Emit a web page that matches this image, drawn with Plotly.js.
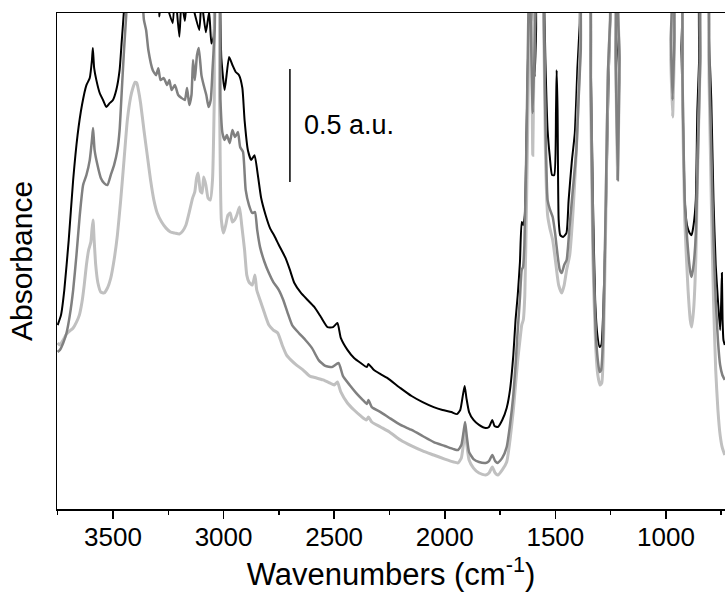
<!DOCTYPE html>
<html>
<head>
<meta charset="utf-8">
<script src="https://cdn.plot.ly/plotly-3.0.1.min.js"></script>
<style>
html,body{margin:0;padding:0;background:#fff;}
#chart{width:725px;height:598px;}
</style>
</head>
<body>
<div id="chart"></div>
<script>
// [wavenumber (cm-1), absorbance (a.u.)]
const blackSpectrum = [[3750,0.814],[3735,0.858],[3720,0.969],[3700,1.190],[3680,1.456],[3660,1.655],[3640,1.788],[3620,1.876],[3605,1.907],[3595,1.987],[3591,2.040],[3585,1.951],[3575,1.898],[3560,1.841],[3545,1.810],[3530,1.779],[3515,1.796],[3500,1.810],[3485,1.854],[3470,1.942],[3460,2.075],[3450,2.21],[3440,2.4],[3300,2.35],[3290,2.18],[3280,2.3],[3230,2.15],[3220,2.3],[3200,2.09],[3190,2.25],[3175,2.16],[3160,2.3],[3110,2.12],[3100,2.25],[3080,2.11],[3065,2.2],[3055,2.06],[3045,2.09],[3035,2.4],[3025,2.4],[3010,1.996],[2995,1.854],[2975,2.000],[2960,1.965],[2945,1.934],[2930,1.920],[2915,1.863],[2905,1.721],[2890,1.588],[2875,1.544],[2860,1.566],[2845,1.478],[2830,1.376],[2810,1.301],[2790,1.243],[2770,1.208],[2750,1.168],[2720,1.111],[2700,1.058],[2680,1.000],[2650,0.956],[2620,0.925],[2590,0.894],[2560,0.850],[2530,0.805],[2505,0.805],[2485,0.823],[2470,0.757],[2440,0.704],[2410,0.668],[2380,0.646],[2352,0.628],[2345,0.642],[2320,0.615],[2290,0.597],[2260,0.580],[2200,0.535],[2150,0.500],[2100,0.473],[2050,0.451],[2010,0.438],[1970,0.429],[1945,0.420],[1930,0.438],[1918,0.504],[1910,0.544],[1902,0.491],[1890,0.429],[1870,0.394],[1845,0.372],[1815,0.358],[1800,0.363],[1785,0.394],[1775,0.367],[1760,0.363],[1740,0.394],[1720,0.447],[1705,0.527],[1690,0.681],[1680,0.836],[1670,0.947],[1660,1.093],[1652,1.270],[1645,1.257],[1638,1.301],[1630,1.677],[1622,2.075],[1610,2.4],[1600,2.075],[1593,1.912],[1587,2.12],[1580,2.4],[1560,2.4],[1552,2.3],[1545,1.987],[1535,1.677],[1525,1.558],[1515,1.478],[1505,1.478],[1497,1.766],[1494,1.942],[1490,1.766],[1485,1.279],[1478,1.212],[1465,1.204],[1450,1.221],[1440,1.367],[1425,1.544],[1412,1.664],[1400,1.956],[1390,2.142],[1380,2.4],[1350,2.4],[1340,1.987],[1330,1.367],[1320,0.925],[1310,0.770],[1300,0.717],[1292,0.726],[1282,0.925],[1270,1.367],[1260,1.854],[1252,2.164],[1245,2.4],[1232,2.4],[1225,1.898],[1218,1.588],[1211,1.898],[1205,2.4],[940,2.4],[930,2.031],[920,1.588],[915,1.367],[905,1.257],[893,1.221],[884,1.212],[875,1.257],[865,1.367],[858,1.766],[850,1.987],[843,2.4],[815,2.4],[805,2.075],[795,1.810],[785,1.367],[775,1.080],[765,0.925],[755,0.792],[750,0.925],[747,1.044],[744,0.836],[740,0.748],[734,0.726]];

const darkGraySpectrum = [[3750,0.695],[3740,0.704],[3725,0.735],[3710,0.779],[3695,0.858],[3680,0.969],[3665,1.124],[3650,1.301],[3635,1.434],[3620,1.478],[3605,1.544],[3595,1.633],[3590,1.686],[3583,1.588],[3570,1.522],[3555,1.465],[3540,1.442],[3525,1.434],[3510,1.478],[3495,1.522],[3480,1.588],[3470,1.677],[3460,1.854],[3450,2.031],[3440,2.186],[3430,2.35],[3380,2.35],[3360,2.164],[3350,2.119],[3340,2.031],[3320,1.942],[3305,1.920],[3295,1.951],[3285,1.898],[3270,1.907],[3255,1.876],[3245,1.898],[3235,1.854],[3220,1.876],[3205,1.832],[3190,1.819],[3175,1.810],[3165,1.863],[3155,1.788],[3145,1.832],[3138,1.987],[3130,1.898],[3120,2.009],[3112,2.040],[3100,1.920],[3090,1.876],[3078,1.832],[3068,1.779],[3058,1.810],[3050,1.942],[3040,2.119],[3032,2.4],[3022,2.4],[3014,1.810],[3005,1.664],[2995,1.633],[2985,1.655],[2972,1.619],[2960,1.677],[2948,1.646],[2935,1.668],[2925,1.602],[2912,1.580],[2900,1.412],[2885,1.345],[2870,1.310],[2858,1.314],[2848,1.235],[2835,1.159],[2815,1.093],[2795,1.044],[2775,1.004],[2750,0.969],[2730,0.925],[2710,0.867],[2690,0.814],[2660,0.779],[2630,0.748],[2600,0.712],[2570,0.659],[2540,0.633],[2510,0.628],[2480,0.646],[2460,0.588],[2430,0.549],[2400,0.513],[2370,0.482],[2352,0.465],[2345,0.482],[2330,0.451],[2290,0.429],[2250,0.403],[2200,0.372],[2150,0.350],[2100,0.323],[2050,0.296],[2000,0.279],[1960,0.265],[1940,0.261],[1925,0.283],[1915,0.341],[1908,0.385],[1900,0.319],[1890,0.252],[1870,0.221],[1845,0.208],[1815,0.204],[1800,0.212],[1785,0.239],[1772,0.212],[1760,0.204],[1740,0.226],[1720,0.274],[1705,0.372],[1690,0.504],[1680,0.637],[1670,0.792],[1660,0.934],[1652,1.058],[1646,1.071],[1640,1.168],[1632,1.544],[1625,1.987],[1618,2.4],[1612,2.19],[1602,1.752],[1590,2.19],[1585,2.4],[1560,2.4],[1552,2.164],[1545,1.721],[1535,1.367],[1525,1.327],[1512,1.292],[1500,1.212],[1490,1.124],[1480,1.058],[1471,1.044],[1460,1.080],[1449,1.102],[1435,1.257],[1421,1.412],[1405,1.588],[1395,1.810],[1385,2.031],[1376,2.4],[1350,2.4],[1340,1.898],[1330,1.190],[1318,0.792],[1308,0.659],[1300,0.606],[1293,0.615],[1283,0.792],[1272,1.367],[1262,1.942],[1252,2.164],[1245,2.4],[1232,2.4],[1227,1.987],[1218,1.456],[1210,1.987],[1203,2.4],[985,2.4],[978,2.075],[970,1.810],[962,2.075],[955,2.4],[935,2.4],[925,1.898],[915,1.367],[900,1.146],[890,1.049],[884,1.027],[875,1.080],[865,1.212],[855,1.588],[845,1.987],[838,2.4],[815,2.4],[805,1.987],[795,1.588],[785,1.190],[775,0.925],[765,0.748],[755,0.637],[745,0.593],[734,0.571]];

const lightGraySpectrum = [[3750,0.735],[3740,0.726],[3725,0.748],[3710,0.774],[3695,0.788],[3680,0.801],[3665,0.827],[3652,0.858],[3640,0.916],[3630,0.991],[3620,1.080],[3610,1.146],[3600,1.181],[3595,1.235],[3590,1.279],[3585,1.190],[3578,1.080],[3568,1.000],[3555,0.960],[3540,0.956],[3525,0.978],[3510,1.022],[3495,1.102],[3480,1.212],[3465,1.367],[3450,1.544],[3435,1.721],[3420,1.823],[3410,1.863],[3400,1.889],[3392,1.885],[3385,1.854],[3375,1.796],[3360,1.677],[3345,1.566],[3330,1.456],[3315,1.367],[3300,1.310],[3280,1.270],[3260,1.243],[3240,1.226],[3220,1.221],[3200,1.217],[3185,1.230],[3170,1.257],[3155,1.314],[3140,1.376],[3130,1.403],[3122,1.465],[3115,1.487],[3105,1.407],[3097,1.398],[3090,1.469],[3080,1.434],[3070,1.376],[3060,1.367],[3050,1.456],[3042,1.810],[3035,2.4],[3025,2.4],[3018,1.810],[3010,1.279],[3000,1.221],[2990,1.257],[2980,1.301],[2970,1.310],[2960,1.270],[2950,1.279],[2940,1.301],[2928,1.336],[2918,1.257],[2905,1.146],[2895,1.035],[2885,1.004],[2870,0.991],[2858,1.035],[2850,0.969],[2835,0.925],[2815,0.867],[2795,0.814],[2775,0.792],[2755,0.779],[2735,0.726],[2715,0.681],[2695,0.659],[2670,0.637],[2640,0.615],[2610,0.588],[2580,0.580],[2550,0.571],[2520,0.558],[2500,0.549],[2485,0.562],[2470,0.518],[2440,0.469],[2410,0.438],[2380,0.412],[2355,0.394],[2345,0.407],[2330,0.385],[2290,0.363],[2250,0.341],[2200,0.305],[2150,0.279],[2100,0.257],[2050,0.239],[2000,0.221],[1960,0.208],[1940,0.204],[1925,0.226],[1915,0.292],[1908,0.350],[1900,0.283],[1890,0.217],[1870,0.181],[1845,0.159],[1815,0.150],[1800,0.159],[1785,0.186],[1772,0.159],[1760,0.150],[1740,0.173],[1720,0.208],[1705,0.305],[1690,0.438],[1680,0.549],[1670,0.659],[1660,0.748],[1652,0.814],[1645,0.836],[1638,0.947],[1630,1.367],[1622,1.898],[1615,2.4],[1608,2.164],[1602,1.566],[1594,2.164],[1585,2.4],[1560,2.4],[1552,2.119],[1545,1.588],[1535,1.301],[1525,1.243],[1512,1.190],[1500,1.102],[1485,0.991],[1471,0.956],[1460,0.991],[1449,1.058],[1435,1.124],[1421,1.301],[1405,1.588],[1395,1.854],[1386,2.075],[1378,2.4],[1350,2.4],[1340,1.810],[1330,1.102],[1318,0.726],[1308,0.593],[1298,0.549],[1290,0.558],[1282,0.748],[1272,1.279],[1262,1.898],[1252,2.164],[1245,2.4],[1232,2.4],[1227,1.987],[1218,1.456],[1210,1.987],[1203,2.4],[985,2.4],[978,1.987],[970,1.735],[962,2.031],[955,2.4],[935,2.4],[925,1.810],[915,1.279],[900,0.969],[890,0.836],[884,0.805],[875,0.881],[865,1.102],[855,1.588],[845,1.987],[838,2.4],[815,2.4],[805,1.898],[795,1.367],[785,0.925],[775,0.615],[765,0.438],[755,0.327],[745,0.270],[734,0.239]];

const xTickValues = [3500, 3000, 2500, 2000, 1500, 1000];
const xTickLabels = ['3500', '3000', '2500', '2000', '1500', '1000'];
const xMinorTicks = [3750, 3250, 2750, 2250, 1750, 1250, 750];
const scaleBarWn = 2700;
const scaleBarFrom = 1.447;
const scaleBarTo = 1.947;
const scaleBarLabel = '0.5 a.u.';

const FONT = '"Liberation Sans", Arial, Helvetica, sans-serif';

function mk(spec, color, width) {
  return {
    x: spec.map(p => p[0]),
    y: spec.map(p => p[1]),
    type: 'scatter',
    mode: 'lines',
    line: {color: color, width: width, shape: 'spline', smoothing: 0.5},
    hoverinfo: 'skip',
    showlegend: false
  };
}

const traces = [
  mk(blackSpectrum, '#000000', 2),
  mk(lightGraySpectrum, '#c0c0c0', 3),
  mk(darkGraySpectrum, '#808080', 2.5)
];

const layout = {
  width: 725,
  height: 598,
  margin: {l: 57, r: 0, t: 13, b: 89},
  paper_bgcolor: '#ffffff',
  plot_bgcolor: '#ffffff',
  font: {family: FONT, color: '#000'},
  xaxis: {
    range: [3753, 733],
    tickmode: 'array',
    tickvals: xTickValues,
    ticktext: xTickLabels,
    ticks: 'outside',
    ticklen: 8,
    tickwidth: 1.5,
    tickcolor: '#000',
    ticklabelstandoff: -4,
    minor: {tickmode: 'array', tickvals: xMinorTicks, ticks: 'outside', ticklen: 4, tickwidth: 1.5, tickcolor: '#000'},
    showline: true,
    linecolor: '#000',
    linewidth: 1.5,
    mirror: true,
    showgrid: false,
    zeroline: false,
    tickfont: {family: FONT, size: 26, color: '#000'},
    title: {text: 'Wavenumbers (cm<sup>-1</sup>)', font: {family: FONT, size: 31, color: '#000'}, standoff: 12}
  },
  yaxis: {
    range: [0, 2.195],
    showticklabels: false,
    ticks: '',
    showline: true,
    linecolor: '#000',
    linewidth: 1.5,
    showgrid: false,
    zeroline: false,
    title: {text: 'Absorbance', font: {family: FONT, size: 30, color: '#000'}, standoff: 14}
  },
  shapes: [{
    type: 'line', xref: 'x', yref: 'y',
    x0: scaleBarWn, x1: scaleBarWn, y0: scaleBarFrom, y1: scaleBarTo,
    line: {color: '#000', width: 1.5}
  }],
  annotations: [{
    xref: 'x', yref: 'y', x: 2646, y: 1.70,
    xanchor: 'left', yanchor: 'middle',
    text: scaleBarLabel, showarrow: false,
    font: {family: FONT, size: 27, color: '#000'}
  }]
};

Plotly.newPlot('chart', traces, layout, {staticPlot: true, displayModeBar: false});
</script>
</body>
</html>
